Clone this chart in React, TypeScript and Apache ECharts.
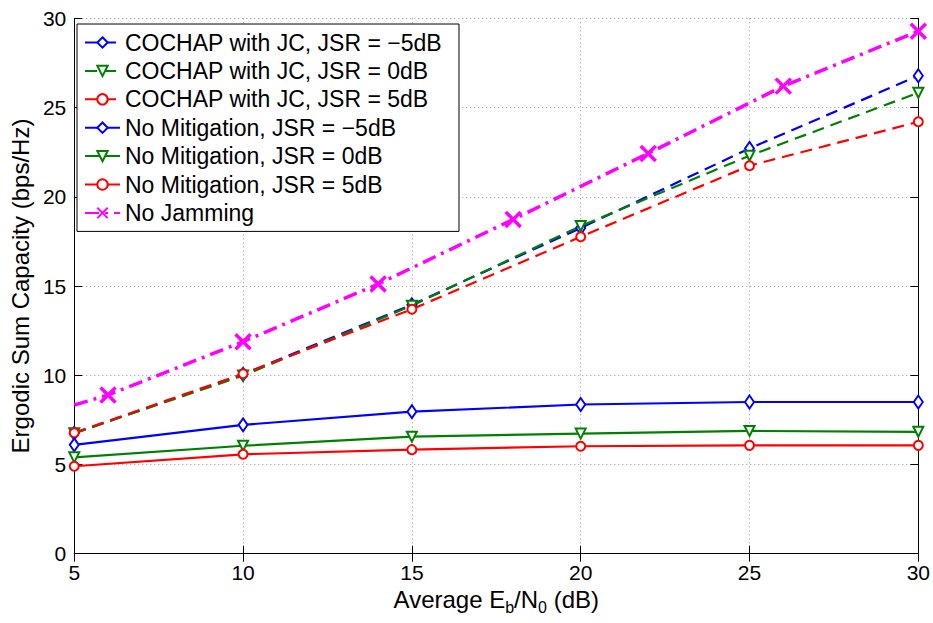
import React, { useEffect, useRef } from "react";
import * as echarts from "echarts";

const xValues = [5, 10, 15, 20, 25, 30];
const cochapM5 = [6.75, 10.05, 13.95, 18.25, 22.71, 26.78];
const cochap0 = [6.75, 9.98, 13.9, 18.36, 22.3, 25.83];
const cochap5 = [6.78, 10.08, 13.7, 17.76, 21.74, 24.2];
const noMitM5 = [6.1, 7.22, 7.96, 8.36, 8.5, 8.5];
const noMit0 = [5.4, 6.05, 6.56, 6.73, 6.88, 6.83];
const noMit5 = [4.9, 5.57, 5.83, 6.02, 6.07, 6.07];
const noJamX = [5, 6, 10, 14, 18, 22, 26, 30];
const noJamY = [8.33, 8.89, 11.88, 15.11, 18.73, 22.43, 26.2, 29.28];
const noJamMarker = [false, true, true, true, true, true, true, true];

const seriesNames = [
  "COCHAP with JC, JSR = \u22125dB",
  "COCHAP with JC, JSR = 0dB",
  "COCHAP with JC, JSR = 5dB",
  "No Mitigation, JSR = \u22125dB",
  "No Mitigation, JSR = 0dB",
  "No Mitigation, JSR = 5dB",
  "No Jamming",
];

const BLUE = "#0000ff";
const GREEN = "#008000";
const RED = "#ff0000";
const MAGENTA = "#ff00ff";
const FONT = "'Liberation Sans', Arial, Helvetica, sans-serif";
const XMARK = "path://M0,0L10,10M0,10L10,0";

function pairs(ys: number[]) {
  return xValues.map((x, i) => [x, ys[i]]);
}

function mkSeries(
  name: string,
  ys: number[],
  color: string,
  symbol: string,
  size: any,
  dashed: boolean,
  rotate = 0
) {
  return {
    name,
    type: "line",
    data: pairs(ys),
    symbol,
    symbolSize: size,
    symbolRotate: rotate,
    showAllSymbol: true,
    lineStyle: { color, width: 2.2, type: dashed ? [12, 7] : "solid" },
    itemStyle: { color: "#ffffff", borderColor: color, borderWidth: 2 },
    emphasis: { disabled: true },
  };
}

export default function App() {
  const ref = useRef<HTMLDivElement>(null);
  useEffect(() => {
    if (!ref.current) return;
    const chart = echarts.init(ref.current, undefined, { renderer: "svg" });
    const noJamData = noJamX.map((x, i) =>
      noJamMarker[i]
        ? { value: [x, noJamY[i]] }
        : { value: [x, noJamY[i]], symbol: "none" }
    );
    const tickStyle = { show: true, inside: true, length: 8, lineStyle: { color: "#000", width: 1 } };
    const lineStyleAxis = { show: true, lineStyle: { color: "#000", width: 1 } };
    const option: any = {
      animation: false,
      backgroundColor: "#ffffff",
      grid: { left: 71.7, right: 14.5, top: 18.3, bottom: 69.3, containLabel: false },
      legend: {
        orient: "vertical",
        left: 77,
        top: 24,
        padding: [7, 17, 7, 7],
        itemWidth: 35,
        itemHeight: 13,
        itemGap: 5.4,
        backgroundColor: "#ffffff",
        borderColor: "#000",
        borderWidth: 1,
        borderRadius: 0,
        textStyle: { fontFamily: FONT, fontSize: 23, lineHeight: 23, color: "#000" },
        data: seriesNames,
      },
      xAxis: [
        {
          type: "value",
          min: 5,
          max: 30,
          interval: 5,
          position: "bottom",
          axisLine: lineStyleAxis,
          axisTick: tickStyle,
          axisLabel: { fontFamily: FONT, fontSize: 21, color: "#000", margin: 8 },
          splitLine: { show: true, lineStyle: { color: "#999", width: 1, type: [1, 3] } },
          name: "Average E{sub|b}/N{sub|0} (dB)",
          nameLocation: "middle",
          nameGap: 30,
          nameTextStyle: {
            fontFamily: FONT,
            fontSize: 24,
            color: "#000",
            rich: { sub: { fontFamily: FONT, fontSize: 16, color: "#000", verticalAlign: "bottom", padding: [16, 0, 0, 0] } },
          },
        },
        {
          type: "value",
          min: 5,
          max: 30,
          interval: 5,
          position: "top",
          axisLine: lineStyleAxis,
          axisTick: tickStyle,
          axisLabel: { show: false },
          splitLine: { show: false },
        },
      ],
      yAxis: [
        {
          type: "value",
          min: 0,
          max: 30,
          interval: 5,
          position: "left",
          axisLine: lineStyleAxis,
          axisTick: tickStyle,
          axisLabel: { fontFamily: FONT, fontSize: 21, color: "#000", margin: 8 },
          splitLine: { show: true, lineStyle: { color: "#999", width: 1, type: [1, 3] } },
          name: "Ergodic Sum Capacity (bps/Hz)",
          nameLocation: "middle",
          nameGap: 32,
          nameTextStyle: { fontFamily: FONT, fontSize: 24, color: "#000" },
        },
        {
          type: "value",
          min: 0,
          max: 30,
          interval: 5,
          position: "right",
          axisLine: lineStyleAxis,
          axisTick: tickStyle,
          axisLabel: { show: false },
          splitLine: { show: false },
        },
      ],
      series: [
        mkSeries(seriesNames[0], cochapM5, BLUE, "diamond", [9, 13], true),
        mkSeries(seriesNames[1], cochap0, GREEN, "triangle", 10, true, 180),
        mkSeries(seriesNames[2], cochap5, RED, "circle", 9, true),
        mkSeries(seriesNames[3], noMitM5, BLUE, "diamond", [9, 13], false),
        mkSeries(seriesNames[4], noMit0, GREEN, "triangle", 10, false, 180),
        mkSeries(seriesNames[5], noMit5, RED, "circle", 9, false),
        {
          name: seriesNames[6],
          type: "line",
          data: noJamData,
          symbol: XMARK,
          symbolSize: 15,
          showAllSymbol: true,
          lineStyle: { color: MAGENTA, width: 3.5, type: [14, 6, 3, 6] },
          itemStyle: { color: MAGENTA, borderColor: MAGENTA, borderWidth: 3.5 },
          emphasis: { disabled: true },
        },
      ],
    };
    chart.setOption(option);
    return () => chart.dispose();
  }, []);
  return (
    <div
      ref={ref}
      style={{ position: "fixed", left: 0, top: 0, width: 933, height: 623, background: "#fff" }}
    />
  );
}
